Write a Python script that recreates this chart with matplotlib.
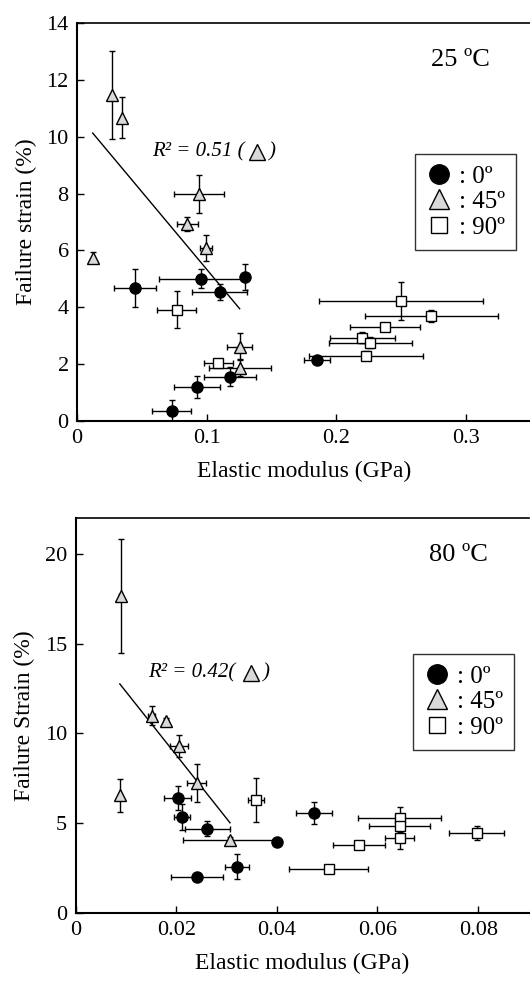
import numpy as np
import matplotlib
matplotlib.use("Agg")
import matplotlib.pyplot as plt
from matplotlib.lines import Line2D

plt.rcParams['font.family'] = ['Liberation Serif', 'DejaVu Serif']
plt.rcParams['font.size'] = 16

# ---- 25 C panel ----
x25_0 = [0.0447, 0.0956, 0.1295, 0.110, 0.1848, 0.118, 0.0925, 0.0732]
y25_0 = [4.67, 5.00, 5.06, 4.53, 2.15, 1.56, 1.19, 0.36]
xe25_0 = [0.016, 0.032, 0.003, 0.021, 0.010, 0.020, 0.018, 0.015]
ye25_0 = [0.67, 0.33, 0.45, 0.29, 0.12, 0.33, 0.38, 0.37]

x25_45 = [0.0267, 0.0347, 0.094, 0.085, 0.0997, 0.0121, 0.1254, 0.1254]
y25_45 = [11.48, 10.66, 7.99, 6.94, 6.10, 5.75, 2.62, 1.88]
xe25_45 = [0.0, 0.0, 0.019, 0.008, 0.0045, 0.0, 0.0095, 0.024]
ye25_45 = [1.55, 0.72, 0.66, 0.25, 0.46, 0.2, 0.48, 0.3]

x25_90 = [0.0769, 0.109, 0.2498, 0.2732, 0.2375, 0.220, 0.2259, 0.2226]
y25_90 = [3.91, 2.03, 4.22, 3.70, 3.29, 2.93, 2.76, 2.30]
xe25_90 = [0.015, 0.011, 0.063, 0.051, 0.027, 0.025, 0.032, 0.044]
ye25_90 = [0.65, 0.12, 0.67, 0.2, 0.1, 0.2, 0.2, 0.15]

# ---- 80 C panel ----
x80_0 = [0.0203, 0.0211, 0.0262, 0.0401, 0.0474, 0.0321, 0.0241]
y80_0 = [6.41, 5.35, 4.70, 3.96, 5.57, 2.57, 1.98]
xe80_0 = [0.0027, 0.0016, 0.0045, 0.0003, 0.0035, 0.0024, 0.0052]
ye80_0 = [0.66, 0.72, 0.42, 0.15, 0.62, 0.69, 0.2]

x80_45 = [0.0090, 0.0151, 0.0180, 0.0206, 0.0241, 0.0088, 0.0307]
y80_45 = [17.65, 11.0, 10.68, 9.28, 7.24, 6.55, 4.06]
xe80_45 = [0.0003, 0.0007, 0.0004, 0.0018, 0.0019, 0.0, 0.0093]
ye80_45 = [3.16, 0.55, 0.2, 0.61, 1.08, 0.94, 0.2]

x80_90 = [0.0358, 0.0644, 0.0644, 0.0644, 0.0797, 0.0563, 0.0503]
y80_90 = [6.30, 5.31, 4.83, 4.20, 4.46, 3.78, 2.44]
xe80_90 = [0.0016, 0.0083, 0.006, 0.0029, 0.0055, 0.0052, 0.0079]
ye80_90 = [1.22, 0.6, 0.3, 0.65, 0.4, 0.2, 0.15]

tri_gray = '#d9d9d9'
ekw = dict(ecolor='black', elinewidth=1.0, capsize=2.5, capthick=1.0,
           markeredgecolor='black', markeredgewidth=1.0, linestyle='none')


def panel(ax, d0, d45, d90, xmax, ymax, xticks, yticks, xfmt, ylabel, temp,
          r2x, r2y, trix, legy, sep):
    ax.errorbar(d0[0], d0[1], xerr=d0[2], yerr=d0[3], marker='o', ms=8,
                markerfacecolor='black', zorder=3, **ekw)
    ax.errorbar(d45[0], d45[1], xerr=d45[2], yerr=d45[3], marker='^', ms=9,
                markerfacecolor=tri_gray, zorder=3, **ekw)
    ax.errorbar(d90[0], d90[1], xerr=d90[2], yerr=d90[3], marker='s', ms=7,
                markerfacecolor='white', zorder=3, **ekw)

    # linear fit on the 45 deg series
    xs = np.array(d45[0]); ys = np.array(d45[1])
    k, b = np.polyfit(xs, ys, 1)
    r2 = np.corrcoef(xs, ys)[0, 1] ** 2
    xl = np.array([xs.min(), xs.max()])
    ax.plot(xl, k * xl + b, color='black', lw=1.0, zorder=2)

    ax.text(r2x, r2y, "R² = %.2f%s(" % (r2, sep), transform=ax.transAxes, fontsize=15,
            style='italic', va='center', ha='left')
    ax.plot([trix], [r2y], marker='^', ms=11, markerfacecolor=tri_gray,
            markeredgecolor='black', transform=ax.transAxes, clip_on=False)
    ax.text(trix + 0.026, r2y, ")", transform=ax.transAxes, fontsize=15,
            style='italic', va='center', ha='left')

    ax.text(0.845, 0.907, temp, transform=ax.transAxes, fontsize=19,
            ha='center', va='center')

    handles = [Line2D([], [], marker='o', ls='none', ms=14, mfc='black', mec='black'),
               Line2D([], [], marker='^', ls='none', ms=15, mfc=tri_gray, mec='black'),
               Line2D([], [], marker='s', ls='none', ms=12, mfc='white', mec='black')]
    leg = ax.legend(handles, [': 0º', ': 45º', ': 90º'], loc='upper left',
                    bbox_to_anchor=(0.745, legy), borderaxespad=0, fontsize=18,
                    frameon=True, fancybox=False, handlelength=1.0,
                    handletextpad=0.3, labelspacing=0.12, borderpad=0.45)
    leg.get_frame().set_edgecolor('black')
    leg.get_frame().set_linewidth(1.0)

    ax.set_xlim(0, xmax)
    ax.set_ylim(0, ymax)
    ax.set_xticks(xticks)
    ax.set_xticklabels([xfmt(t) for t in xticks])
    ax.set_yticks(yticks)
    ax.tick_params(direction='in', length=5, width=1.0, labelsize=16, pad=6)
    ax.spines['right'].set_visible(False)
    for s in ['left', 'bottom']:
        ax.spines[s].set_linewidth(1.5)
    ax.spines['top'].set_linewidth(1.2)
    ax.set_xlabel('Elastic modulus (GPa)', fontsize=17, labelpad=9)
    ax.set_ylabel(ylabel, fontsize=17, labelpad=7)


fig = plt.figure(figsize=(5.3, 9.82), dpi=100)
ax1 = fig.add_axes([77 / 530, 1 - 421 / 982, 454 / 530, 398 / 982])
ax2 = fig.add_axes([75.5 / 530, 1 - 913 / 982, 453 / 530, 395 / 982])

panel(ax1, (x25_0, y25_0, xe25_0, ye25_0), (x25_45, y25_45, xe25_45, ye25_45),
      (x25_90, y25_90, xe25_90, ye25_90), 0.35, 14, [0, 0.1, 0.2, 0.3],
      range(0, 15, 2), lambda t: '0' if t == 0 else '%.1f' % t,
      'Failure strain (%)', '25 ºC', 0.165, 0.675, 0.397, 0.671, ' ')
panel(ax2, (x80_0, y80_0, xe80_0, ye80_0), (x80_45, y80_45, xe80_45, ye80_45),
      (x80_90, y80_90, xe80_90, ye80_90), 0.09, 22, [0, 0.02, 0.04, 0.06, 0.08],
      [0, 5, 10, 15, 20], lambda t: '0' if t == 0 else '%.2f' % t,
      'Failure Strain (%)', '80 ºC', 0.16, 0.607, 0.388, 0.656, '')

fig.savefig('out.png', dpi=100)
